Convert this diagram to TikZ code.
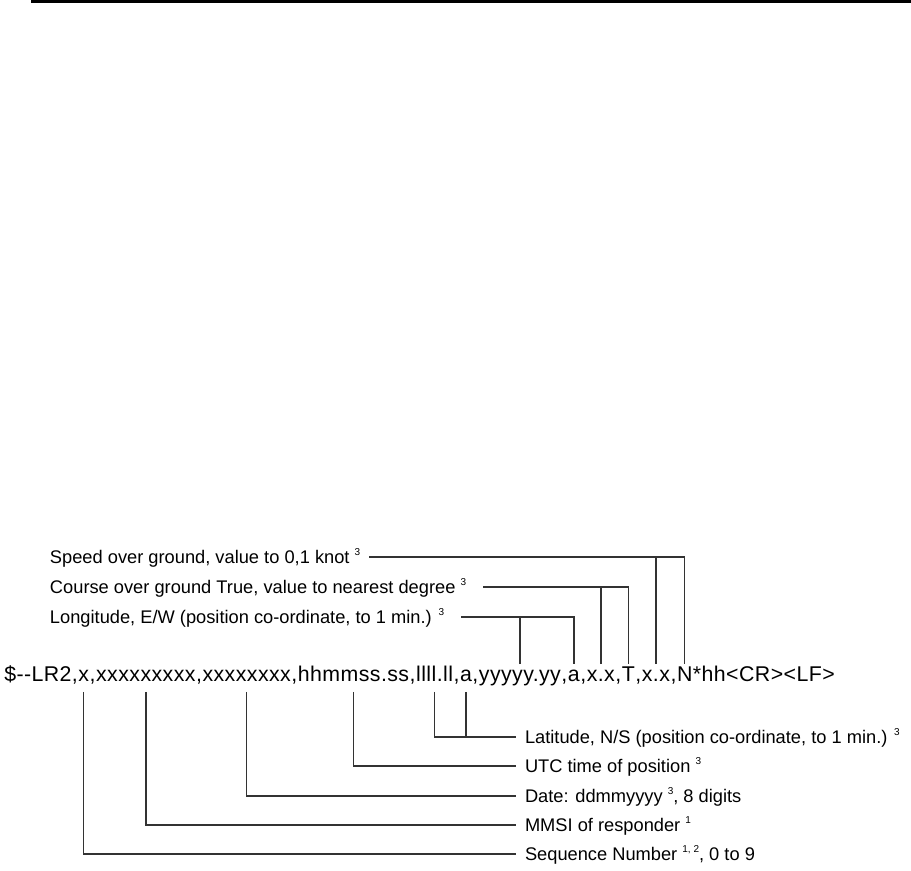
\documentclass[tikz,border=0pt]{standalone}
\usepackage{fontspec}
\setmainfont{Liberation Sans}
\newfontfamily\nmeafont[LetterSpace=2.0]{Liberation Sans}
\newcommand{\fnote}[1]{\raisebox{5.5pt}{\fontsize{7.5}{8}\selectfont #1}}
\tikzstyle{fld} = [inner sep=0pt, anchor=base west, text height=12.5pt,
    text depth=8pt, font=\nmeafont\fontsize{16}{18}\selectfont]
\tikzstyle{lbl} = [inner sep=0pt, outer xsep=6.75pt, anchor=west,
    text height=11pt, text depth=2pt, font=\fontsize{13.7}{16}\selectfont]
\tikzstyle{wire} = [draw, line width=1pt, black!80]

\begin{document}
\begin{tikzpicture}[x=0.75pt, y=-0.75pt]
  \useasboundingbox (0,0) rectangle (911,871);
  % Place nodes
  \node [fld] (hdr) at (4,681) {\$-{}-LR2,};
  \node [fld] (seq) at (hdr.base east) {x};
  \node [fld] (sepa) at (seq.base east) {,};
  \node [fld] (mmsi) at (sepa.base east) {xxxxxxxxx};
  \node [fld] (sepb) at (mmsi.base east) {,};
  \node [fld] (date) at (sepb.base east) {xxxxxxxx};
  \node [fld] (sepc) at (date.base east) {,};
  \node [fld] (utc) at (sepc.base east) {hhmmss.ss};
  \node [fld] (sepd) at (utc.base east) {,};
  \node [fld] (lat) at (sepd.base east) {llll.ll};
  \node [fld] (sepe) at (lat.base east) {,};
  \node [fld] (ns) at (sepe.base east) {a};
  \node [fld] (sepf) at (ns.base east) {,};
  \node [fld] (lon) at (sepf.base east) {yyyyy.yy};
  \node [fld] (sepg) at (lon.base east) {,};
  \node [fld] (ew) at (sepg.base east) {a};
  \node [fld] (seph) at (ew.base east) {,};
  \node [fld] (cog) at (seph.base east) {x.x};
  \node [fld] (sepi) at (cog.base east) {,};
  \node [fld] (tru) at (sepi.base east) {T};
  \node [fld] (sepj) at (tru.base east) {,};
  \node [fld] (sog) at (sepj.base east) {x.x};
  \node [fld] (sepk) at (sog.base east) {,};
  \node [fld] (unit) at (sepk.base east) {N};
  \node [fld] (tail) at (unit.base east) {*hh<CR><LF>};
  % Field labels
  \node [lbl] (spd) at (41,557) {Speed over ground, value to 0,1 knot \fnote{3}};
  \node [lbl] (crs) at (41,587)
  {Course over ground True, value to nearest degree \fnote{3}};
  \node [lbl] (lng) at (41,617)
  {Longitude, E/W (position co-ordinate, to 1 min.) \fnote{3}};
  \node [lbl] (latl) at (516,737)
  {Latitude, N/S (position co-ordinate, to 1 min.) \fnote{3}};
  \node [lbl] (utcl) at (516,766) {UTC time of position \fnote{3}};
  \node [lbl] (datel) at (516,796) {Date: ddmmyyyy \fnote{3}, 8 digits};
  \node [lbl] (mmsil) at (516,825) {MMSI of responder \fnote{1}};
  \node [lbl] (seql) at (516,854) {Sequence Number \fnote{1, 2}, 0 to 9};
  % Draw edges
  \draw [wire] (spd.east) -| (unit.north);
  \draw [wire] (sog.north) -- (sog.north |- spd.east);
  \draw [wire, shorten <=6pt] (crs.east) -| (tru.north);
  \draw [wire] (cog.north) -- (cog.north |- crs.east);
  \draw [wire, shorten <=6pt] (lng.east) -| (ew.north);
  \draw [wire] (lon.north) -- (lon.north |- lng.east);
  \draw [wire] (lat.south) |- (latl.west);
  \draw [wire] (ns.south) -- (ns.south |- latl.west);
  \draw [wire] (utc.south) |- (utcl.west);
  \draw [wire] (date.south) |- (datel.west);
  \draw [wire] (mmsi.south) |- (mmsil.west);
  \draw [wire] (seq.south) |- (seql.west);
  % Top rule
  \draw [line width=2.25pt] (31,1.5) -- (911,1.5);
\end{tikzpicture}
\end{document}
